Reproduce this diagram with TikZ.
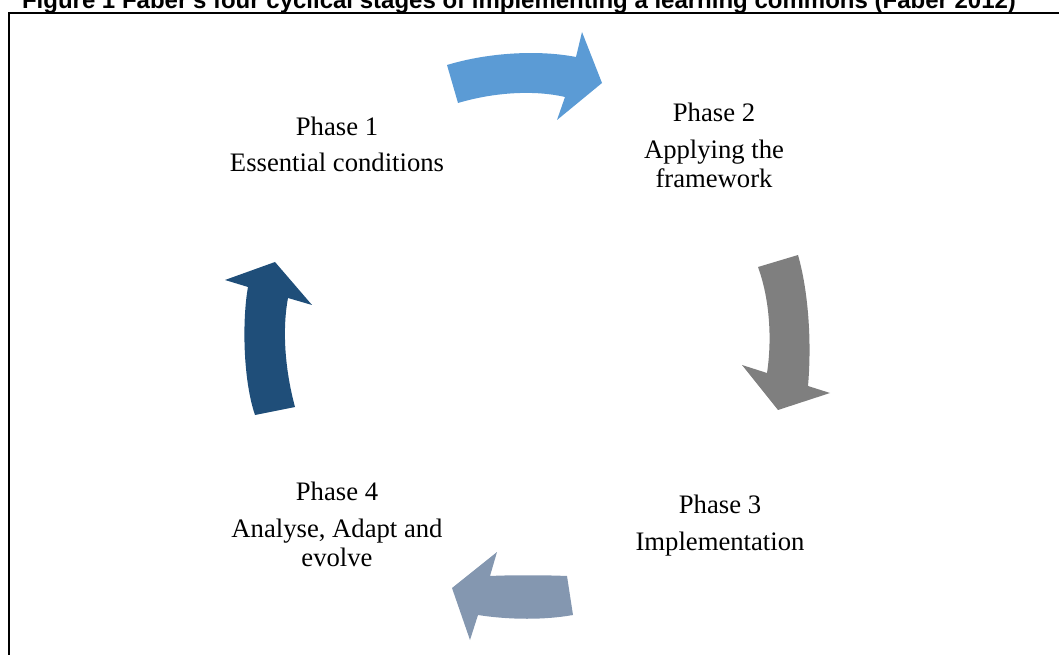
\documentclass[tikz,border=0pt]{standalone}
\usepackage{fontspec}
\setmainfont{Liberation Serif}
\newfontfamily\captionfont{Liberation Sans}
\usetikzlibrary{positioning}
\definecolor{accentblue}{HTML}{5B9BD5}
\definecolor{midgray}{HTML}{7F7F7F}
\definecolor{slateblue}{HTML}{8497B0}
\definecolor{navyblue}{HTML}{1F4E79}

\begin{document}
\begin{tikzpicture}
    [x=0.75pt, y=-0.75pt,
    phase/.style={inner sep=0pt, anchor=base, font=\fontsize{20}{21.75}\selectfont},
    desc/.style={phase, align=center}]
    \useasboundingbox (0,0) rectangle (1059,655);
    \begin{scope}
        \clip (0,0) rectangle (1059,655);
        % caption and frame run off the page edge
        \node [anchor=base, inner sep=0pt, font=\captionfont\bfseries\fontsize{18}{20}\selectfont] (caption) at (519,8.5)
            {Figure 1 Faber's four cyclical stages of implementing a learning commons (Faber 2012)};
        \draw [line width=1.8pt] (9,700) -- (9,13) -- (1100,13);
    \end{scope}

    % the four phases (base of a two-line node is its last line)
    \node [phase] (phase1) at (337,136) {Phase 1};
    \node [desc] (essential) at ([yshift=-27pt]phase1.base) {Essential conditions};
    \node [phase] (phase2) at (714,122) {Phase 2};
    \node [desc] (framework) at ([yshift=-49.5pt]phase2.base) {Applying the\\framework};
    \node [phase] (phase3) at (720,513) {Phase 3};
    \node [desc] (implement) at ([yshift=-27.75pt]phase3.base) {Implementation};
    \node [phase] (phase4) at (337,500) {Phase 4};
    \node [desc] (evolve) at ([yshift=-49.5pt]phase4.base) {Analyse, Adapt and\\evolve};

    % curved block arrows between the phases
    \fill [accentblue] (447,65) .. controls (490,52) and (540,50) .. (576,57)
        -- (582,32) -- (602,83) -- (557,120) -- (565,97)
        .. controls (535,90) and (495,92) .. (458,103) -- cycle;
    \fill [midgray] (758,267) .. controls (770,300) and (772,340) .. (767,373)
        -- (742,365) -- (778,410) -- (830,393) -- (808,386)
        .. controls (812,340) and (808,290) .. (798,255) -- cycle;
    \fill [slateblue] (567,576) .. controls (545,575) and (510,575) .. (490,576)
        -- (497,552) -- (452,588) -- (470,640) -- (478,615)
        .. controls (510,620) and (545,620) .. (573,615) -- cycle;
    \fill [navyblue] (255,415) .. controls (243,380) and (242,320) .. (248,287)
        -- (225,280) -- (275,262) -- (312,305) -- (288,298)
        .. controls (282,330) and (285,370) .. (295,407) -- cycle;
\end{tikzpicture}
\end{document}
